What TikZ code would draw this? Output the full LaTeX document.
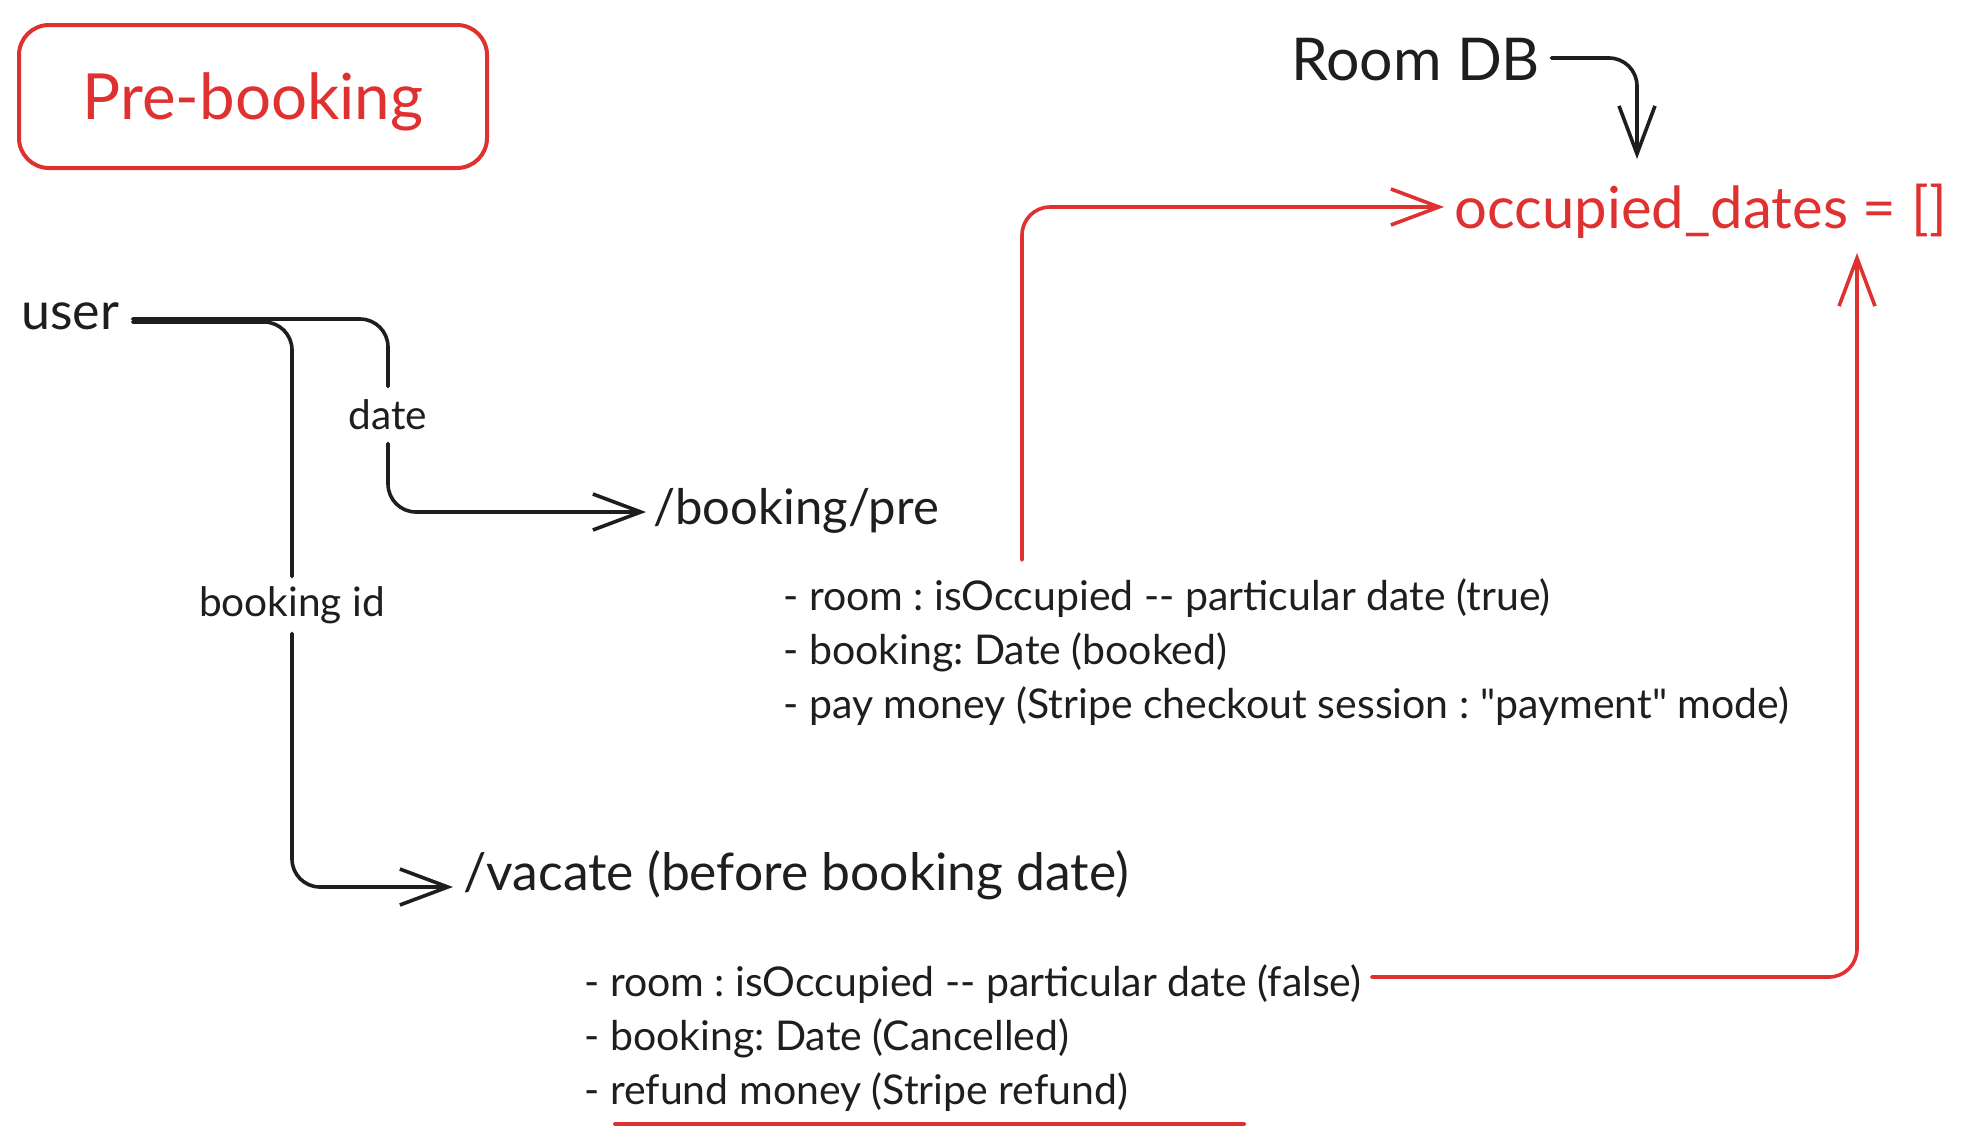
\documentclass[tikz,border=0pt]{standalone}
\usepackage{fontspec}
\setmainfont{Lato}[Ligatures=TeXReset]
\usetikzlibrary{arrows.meta,calc}
\definecolor{exred}{HTML}{E03131}
\definecolor{exblack}{HTML}{1E1E1E}
\begin{document}
\frenchspacing
\begin{tikzpicture}[x=0.5pt,y=-0.5pt,
  big/.style={font=\fontsize{25}{30}\selectfont, text=exblack, inner sep=0pt, anchor=base west},
  bigred/.style={big, text=exred},
  small/.style={font=\fontsize{20.5}{24}\selectfont, text=exblack, inner sep=0pt, anchor=base west},
  lbl/.style={font=\fontsize{20.3}{24}\selectfont, text=exblack, fill=white, inner xsep=4pt, minimum height=28pt},
  titlebox/.style={draw=exred, line width=2pt, rounded corners=15pt, minimum width=234pt, minimum height=71.5pt, text=exred, font=\fontsize{31.8}{36}\selectfont},
  conn/.style={line width=1.8pt, draw=exblack, rounded corners=14pt, line cap=round, line join=round},
  connred/.style={conn, draw=exred},
  tip/.style={-{Straight Barb[length=24pt,width=18pt,line width=1.8pt]}}
]
\useasboundingbox (0,0) rectangle (1965,1146);

% title
\node[titlebox] (title) at (253,96.5) {\raisebox{-11.5pt}[0pt][0pt]{Pre-booking}};

% main nodes
\node[big, font=\fontsize{26}{30}\selectfont] (user) at (21,329) {user};
\node[big, font=\fontsize{24.5}{30}\selectfont] (pre) at (653,524) {/booking/pre};
\node[big, font=\fontsize{25.8}{30}\selectfont] (vacate) at (463,890) {/vacate (before booking date)};
\node[big, font=\fontsize{29.5}{34}\selectfont] (roomdb) at (1291,80) {Room DB};
\node[bigred, font=\fontsize{29}{34}\selectfont] (occ) at (1454,228) {occupied\_dates = []};

% lists
\node[small] (p1) at (783,610) {- room : isOccupied -- particular date (true)};
\node[small] (p2) at (783,664) {- booking: Date (booked)};
\node[small] (p3) at (783,718) {- pay money (Stripe checkout session : "payment" mode)};
\node[small] (v1) at (584,996) {- room : isOccupied -- particular date (false)};
\node[small] (v2) at (584,1050) {- booking: Date (Cancelled)};
\node[small] (v3) at (584,1104) {- refund money (Stripe refund)};

% labels on connectors
\node[lbl] (datelbl) at (388,415) {date};
\node[lbl] (bidlbl) at (292,605) {booking id};

% user -> /booking/pre
\draw[conn] ($(user.base east)+(13,-10)$) -| (datelbl.north);
\draw[conn, tip] (datelbl.south) |- ($(pre.base west)+(-7,-12)$);

% user -> /vacate
\draw[conn] ($(user.base east)+(13,-7)$) -| (bidlbl.north);
\draw[conn, tip] (bidlbl.south) |- ($(vacate.base west)+(-10,-3)$);

% Room DB -> occupied_dates
\draw[conn, tip] ($(roomdb.base east)+(11,-22)$) -| ($(occ.base west)+(183,-69)$);

% /booking/pre list -> occupied_dates
\draw[connred, tip] ($(p1.base west)+(239,-50)$) |- ($(occ.base west)+(-10,-21)$);

% /vacate list -> occupied_dates
\draw[connred, tip] ($(v1.base east)+(10,-19)$) -| ($(occ.base west)+(403,25)$);

% underline
\draw[line width=2pt, exred, line cap=round] ($(v3.base west)+(31,20)$) -- ($(v3.base west)+(660,20)$);
\end{tikzpicture}
\end{document}
